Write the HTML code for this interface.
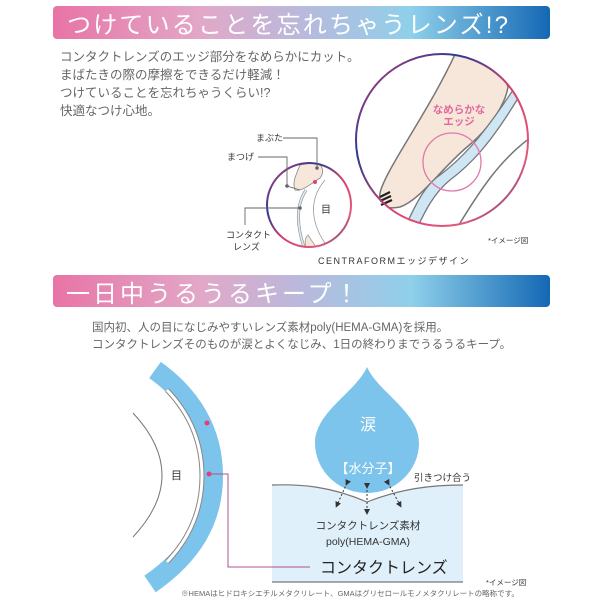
<!DOCTYPE html>
<html><head><meta charset="utf-8"><style>
html,body{margin:0;padding:0;background:#fff;}
svg{display:block;font-family:"Liberation Sans","Noto Sans CJK JP",sans-serif;}
</style></head><body>
<svg width="600" height="600" viewBox="0 0 600 600" xmlns="http://www.w3.org/2000/svg">
<defs>
<linearGradient id="bn" x1="0" x2="1" y1="0" y2="0">
<stop offset="0" stop-color="#e874a6"/><stop offset="0.3" stop-color="#e2a8c8"/><stop offset="0.5" stop-color="#b9b9dc"/><stop offset="0.72" stop-color="#8fd0ea"/><stop offset="1" stop-color="#1468b4"/>
</linearGradient>
<linearGradient id="ring" x1="0" y1="0" x2="1" y2="1">
<stop offset="0" stop-color="#d43c74"/><stop offset="0.3" stop-color="#2a3a90"/><stop offset="0.55" stop-color="#d8406e"/><stop offset="0.8" stop-color="#e05a7a"/><stop offset="1" stop-color="#2a3a90"/>
</linearGradient>
<linearGradient id="ln" x1="0" x2="1"><stop offset="0" stop-color="#e0407a"/><stop offset="0.5" stop-color="#2a4aa0"/><stop offset="1" stop-color="#e0407a"/></linearGradient>
<linearGradient id="ln2" x1="0" x2="1"><stop offset="0" stop-color="#3050b0"/><stop offset="1" stop-color="#e0407a"/></linearGradient>
<clipPath id="cb"><circle cx="442" cy="140" r="86"/></clipPath>
<clipPath id="cs"><circle cx="309" cy="205" r="42"/></clipPath>
<marker id="ar" markerWidth="6" markerHeight="6" refX="3" refY="3" orient="auto"><path d="M0,0 L6,3 L0,6Z" fill="#333"/></marker>
</defs>

<!-- Banner 1 -->
<rect x="53" y="6" width="497" height="33" rx="4" fill="url(#bn)"/>
<text x="67" y="33" font-size="24" fill="#fff" letter-spacing="2.2">つけていることを忘れちゃうレンズ!?</text>

<g font-size="12.5" fill="#666">
<text x="60" y="61">コンタクトレンズのエッジ部分をなめらかにカット。</text>
<text x="60" y="79">まばたきの際の摩擦をできるだけ軽減！</text>
<text x="60" y="97">つけていることを忘れちゃうくらい!?</text>
<text x="60" y="115">快適なつけ心地。</text>
</g>

<!-- big circle -->
<g clip-path="url(#cb)">
<path d="M457,50 C430,110 385,170 380,193 C378,205 385,210 400,207 C420,200 440,170 467,147 C490,128 505,105 508,87 L493,45Z" fill="#f7e6da" stroke="#777" stroke-width="1.5"/>
<path d="M403,232 C415,205 425,185 440,175 C460,160 480,140 513,90 L520,95 C490,145 470,165 450,180 C435,192 425,210 414,235Z" fill="#cfe6f5" stroke="#777" stroke-width="1.3"/>
<path d="M457,228 C480,190 500,160 530,138" fill="none" stroke="#777" stroke-width="1.5"/>
</g>
<path d="M380,197 L390,192 M380,201 L391,196 M381,205 L392,200" stroke="#222" stroke-width="2.2"/>
<circle cx="452" cy="162" r="29" fill="none" stroke="#e07aa8" stroke-width="1.3"/>
<text x="459" y="113" font-size="10.5" fill="#e06aa0" text-anchor="middle" font-weight="bold">なめらかな</text>
<text x="459" y="125" font-size="10.5" fill="#e06aa0" text-anchor="middle" font-weight="bold">エッジ</text>
<circle cx="442" cy="140" r="86" fill="none" stroke="url(#ring)" stroke-width="2"/>

<!-- small circle -->
<g clip-path="url(#cs)">
<path d="M300,165 C296,175 292,182 295,190 C302,192 312,183 320,178 C325,172 322,166 318,162Z" fill="#f7e6da" stroke="#888" stroke-width="0.8"/>
<path d="M306,190 C296,205 296,225 305,250" fill="none" stroke="#999" stroke-width="3"/>
<path d="M306,190 C296,205 296,225 305,250" fill="none" stroke="#dceaf5" stroke-width="1.6"/>
<path d="M325,180 C308,200 310,225 330,250" fill="none" stroke="#999" stroke-width="0.8"/>
<path d="M308,235 C303,240 305,250 312,252 L318,250Z" fill="#f7e6da" stroke="#999" stroke-width="0.8"/>
</g>
<circle cx="309" cy="205" r="42" fill="none" stroke="url(#ring)" stroke-width="2"/>
<line x1="315" y1="182" x2="358" y2="182" stroke="url(#ln2)" stroke-width="1.5"/>
<circle cx="315" cy="182" r="2" fill="#e0407a"/>
<g stroke="#666" stroke-width="0.9" fill="none">
<path d="M283,138 H317 V168"/><path d="M258,157 H287 V186 L300,190"/><path d="M300,208 H245 V225"/>
</g>
<circle cx="317" cy="168" r="1.8" fill="#666"/><circle cx="287" cy="186" r="1.8" fill="#666"/><circle cx="300" cy="208" r="1.8" fill="#666"/>
<g font-size="9" fill="#333">
<text x="256" y="141">まぶた</text><text x="227" y="160">まつげ</text>
<text x="226" y="238">コンタクト</text><text x="233" y="250">レンズ</text>
<text x="321" y="213" font-size="10">目</text>
<text x="318" y="264" letter-spacing="1.5">CENTRAFORMエッジデザイン</text>
<text x="488" y="243" font-size="7.5">*イメージ図</text>
</g>

<!-- Banner 2 -->
<rect x="53" y="275" width="497" height="32" rx="4" fill="url(#bn)"/>
<text x="66" y="302" font-size="24" fill="#fff" letter-spacing="3">一日中うるうるキープ！</text>
<g font-size="11.5" fill="#666">
<text x="92" y="331">国内初、人の目になじみやすいレンズ素材poly(HEMA-GMA)を採用。</text>
<text x="92" y="348">コンタクトレンズそのものが涙とよくなじみ、1日の終わりまでうるうるキープ。</text>
</g>

<!-- eye & lens -->
<path d="M133,413 Q191,475 133,537" fill="none" stroke="#777" stroke-width="1"/>
<path d="M155,370 C190,395 213,430 213,476 C213,520 192,555 150,584" fill="none" stroke="#7cc4ec" stroke-width="20"/>
<path d="M167,390 C188,412 202,440 202,476 C202,512 188,540 167,562" fill="none" stroke="#888" stroke-width="5"/>
<path d="M167,390 C188,412 202,440 202,476 C202,512 188,540 167,562" fill="none" stroke="#fff" stroke-width="3"/>
<text x="171" y="479" font-size="11" fill="#333">目</text>

<!-- box -->
<path d="M272,485 C300,484 330,486 367,502 C400,489 430,485 463,485 L463,582 L272,582Z" fill="#dff0fa"/>
<!-- drop -->
<path d="M367,367 C378,392 419,412 419,443 A52,50 0 0 1 315,443 C315,412 356,392 367,367Z" fill="#7cc4ec"/>
<path d="M272,485 C300,484 330,486 367,502 C400,489 430,485 463,485" fill="none" stroke="#777" stroke-width="1.2"/>
<line x1="272" y1="582" x2="463" y2="582" stroke="#777" stroke-width="1.2"/>

<g stroke="#333" stroke-width="1" stroke-dasharray="2,2" fill="none" marker-end="url(#ar)" marker-start="url(#ar)">
<line x1="367" y1="486" x2="367" y2="512"/>
<line x1="347" y1="483" x2="337" y2="505"/>
<line x1="388" y1="483" x2="400" y2="505"/>
</g>

<line x1="207" y1="423" x2="352" y2="423" stroke="url(#ln)" stroke-width="1.5"/>
<circle cx="207" cy="423" r="2.5" fill="#e0407a"/>
<path d="M209,474 H228 V567 H310" fill="none" stroke="#b05090" stroke-width="1"/>
<line x1="228" y1="567" x2="310" y2="567" stroke="url(#ln2)" stroke-width="1.5"/>
<circle cx="209" cy="474" r="2.5" fill="#e0407a"/>

<text x="368" y="430" font-size="16" fill="#fff" text-anchor="middle">涙</text>
<text x="368" y="473" font-size="13" fill="#fff" text-anchor="middle">【水分子】</text>
<text x="414" y="481" font-size="9.5" fill="#333">引きつけ合う</text>
<text x="368" y="529" font-size="10.5" fill="#333" text-anchor="middle">コンタクトレンズ素材</text>
<text x="368" y="545" font-size="10.5" fill="#333" text-anchor="middle">poly(HEMA-GMA)</text>
<text x="320" y="573" font-size="16" fill="#222">コンタクトレンズ</text>
<text x="486" y="585" font-size="7.5" fill="#333">*イメージ図</text>
<text x="350" y="596" font-size="7.5" fill="#666" text-anchor="middle">※HEMAはヒドロキシエチルメタクリレート、GMAはグリセロールモノメタクリレートの略称です。</text>
</svg>
</body></html>
